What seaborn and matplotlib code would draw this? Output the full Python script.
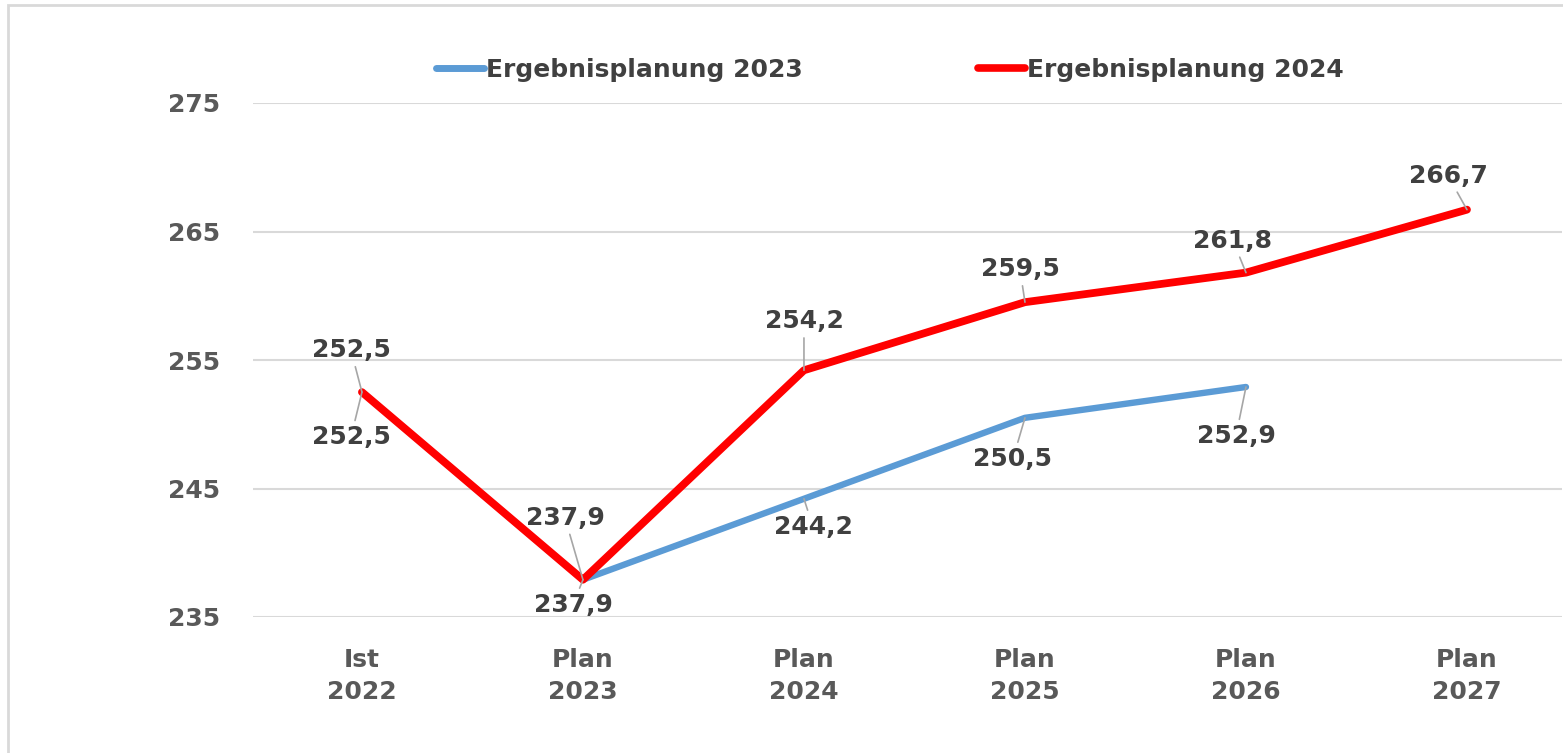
import matplotlib
matplotlib.use("Agg")
import matplotlib.pyplot as plt
from matplotlib.patches import Rectangle
from matplotlib.lines import Line2D
import seaborn as sns
import pandas as pd
import numpy as np

# ---- data ----
categories = ["Ist\n2022", "Plan\n2023", "Plan\n2024", "Plan\n2025", "Plan\n2026", "Plan\n2027"]
plan_2023 = [252.5, 237.9, 244.2, 250.5, 252.9, np.nan]
plan_2024 = [252.5, 237.9, 254.2, 259.5, 261.8, 266.7]
series_names = ["Ergebnisplanung 2023", "Ergebnisplanung 2024"]
y_ticks = [235, 245, 255, 265, 275]

# ---- styles ----
BLUE = "#5b9bd5"
RED = "#ff0000"
TXT = "#404040"
TICK = "#595959"
GRID = "#d9d9d9"
FONT = "DejaVu Sans"
FS = 18

# label offsets in pixels (dx, dy) relative to point
off_2023 = [(-11, -45), (-10, -25), (9, -28), (-12, -41), (-10, -49), None]
off_2024 = [(-11, 42), (-18, 62), (0, 49), (-5, 33), (-13, 32), (-19, 34)]

W, H = 1563, 753
sns.set_theme(style="white")
plt.rcParams["font.family"] = [FONT]

fig = plt.figure(figsize=(W / 100, H / 100), dpi=100)
ax = fig.add_axes([253 / W, 1 - 617 / H, (1562 - 253) / W, (617 - 103) / H])

df = pd.DataFrame({
    "Kategorie": categories * 2,
    "Wert": plan_2023 + plan_2024,
    "Serie": [series_names[0]] * len(categories) + [series_names[1]] * len(categories),
})

d1 = df[df["Serie"] == series_names[0]].dropna()
d2 = df[df["Serie"] == series_names[1]]
sns.lineplot(data=d1, x="Kategorie", y="Wert", color=BLUE, linewidth=4.6,
             sort=False, ax=ax, solid_capstyle="round", solid_joinstyle="round", zorder=3)
sns.lineplot(data=d2, x="Kategorie", y="Wert", color=RED, linewidth=5.6,
             sort=False, ax=ax, solid_capstyle="round", solid_joinstyle="round", zorder=4)

ax.set_xlim(-0.493, 5.43)
ax.set_ylim(235, 275)
ax.set_yticks(y_ticks)
ax.set_xticks(range(len(categories)))
ax.set_xticklabels(categories, fontsize=FS, fontweight="bold", color=TICK, linespacing=1.45)
ax.set_yticklabels([str(t) for t in y_ticks], fontsize=FS, fontweight="bold", color=TICK)
ax.tick_params(axis="x", length=0, pad=22)
ax.tick_params(axis="y", length=0, pad=24)
ax.grid(axis="y", color=GRID, linewidth=1.5)
ax.grid(axis="x", visible=False)
for s in ax.spines.values():
    s.set_visible(False)
ax.set_xlabel("")
ax.set_ylabel("")
ax.set_facecolor("none")


def fmt(v):
    return f"{v:.1f}".replace(".", ",")


for vals, offs in ((plan_2023, off_2023), (plan_2024, off_2024)):
    for i, (v, o) in enumerate(zip(vals, offs)):
        if o is None or np.isnan(v):
            continue
        ax.annotate(fmt(v), xy=(i, v), xytext=o, textcoords="offset pixels",
                    ha="center", va="center", fontsize=FS, fontweight="bold", color=TXT,
                    arrowprops=dict(arrowstyle="-", color="#a6a6a6", lw=1.2,
                                    shrinkA=1, shrinkB=0), zorder=6)

handles = [Line2D([], [], color=BLUE, lw=5, solid_capstyle="round"),
           Line2D([], [], color=RED, lw=5.5, solid_capstyle="round")]
leg = fig.legend(handles, series_names, loc="center", bbox_to_anchor=(890 / W, 1 - 70 / H),
                 ncol=2, frameon=False, handlelength=1.9, handletextpad=0.08,
                 columnspacing=7.0, prop={"family": FONT, "weight": "bold", "size": FS})
for t in leg.get_texts():
    t.set_color(TXT)

fig.patches.append(Rectangle((8 / W, -0.1), 1.2, 1 - 5 / H + 0.1, transform=fig.transFigure,
                             fill=False, edgecolor=GRID, linewidth=2, zorder=0))

fig.savefig("out.png", dpi=100)
